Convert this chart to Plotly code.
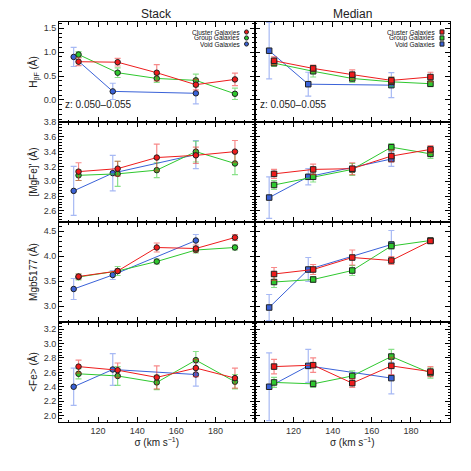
import plotly.graph_objects as go
from plotly.subplots import make_subplots

# ---------------- data ----------------
sigma_cluster = [110, 130, 150, 170, 190]
sigma_group = [110, 130, 150, 170, 190]
sigma_void = [107.5, 127.5, 170]

index_names = ["Hbeta", "MgFe", "Mgb", "Fe"]
y_titles = ["H<sub>βF</sub> (Å)", "[MgFe]' (Å)", "Mgb5177 (Å)", "<Fe> (Å)"]
y_ranges = [[-0.46, 1.63], [2.45, 3.80], [2.68, 4.68], [1.91, 3.30]]
y_dticks = [0.5, 0.2, 0.5, 0.2]

# Stack (left column)
stack_cluster = {
    "Hbeta": [0.80, 0.79, 0.57, 0.32, 0.43],
    "MgFe": [3.13, 3.17, 3.32, 3.35, 3.40],
    "Mgb": [3.59, 3.70, 4.17, 4.15, 4.37],
    "Fe": [2.68, 2.63, 2.53, 2.66, 2.52],
}
stack_cluster_err = {
    "Hbeta": [0.08, 0.08, 0.17, 0.11, 0.13],
    "MgFe": [0.12, 0.10, 0.18, 0.11, 0.15],
    "Mgb": [0.05, 0.04, 0.09, 0.07, 0.06],
    "Fe": [0.09, 0.10, 0.16, 0.12, 0.14],
}
stack_group = {
    "Hbeta": [0.95, 0.57, 0.45, 0.41, 0.13],
    "MgFe": [3.08, 3.10, 3.15, 3.40, 3.24],
    "Mgb": [3.58, 3.70, 3.89, 4.12, 4.17],
    "Fe": [2.58, 2.55, 2.46, 2.77, 2.47],
}
stack_group_err = {
    "Hbeta": [0.06, 0.10, 0.08, 0.13, 0.12],
    "MgFe": [0.07, 0.17, 0.10, 0.14, 0.15],
    "Mgb": [0.06, 0.09, 0.05, 0.06, 0.05],
    "Fe": [0.07, 0.13, 0.10, 0.12, 0.10],
}
stack_void = {
    "Hbeta": [0.90, 0.18, 0.14],
    "MgFe": [2.87, 3.11, 3.36],
    "Mgb": [3.34, 3.62, 4.31],
    "Fe": [2.40, 2.64, 2.57],
}
stack_void_err = {
    "Hbeta": [0.20, 0.17, 0.22],
    "MgFe": [0.33, 0.24, 0.19],
    "Mgb": [0.21, 0.09, 0.12],
    "Fe": [0.26, 0.22, 0.16],
}

# Median (right column)
median_cluster = {
    "Hbeta": [0.82, 0.66, 0.53, 0.41, 0.48],
    "MgFe": [3.10, 3.16, 3.17, 3.34, 3.43],
    "Mgb": [3.64, 3.73, 3.97, 3.91, 4.30],
    "Fe": [2.68, 2.70, 2.45, 2.69, 2.61],
}
median_cluster_err = {
    "Hbeta": [0.08, 0.07, 0.10, 0.07, 0.10],
    "MgFe": [0.06, 0.07, 0.08, 0.08, 0.05],
    "Mgb": [0.13, 0.10, 0.15, 0.08, 0.05],
    "Fe": [0.10, 0.10, 0.06, 0.12, 0.07],
}
median_group = {
    "Hbeta": [0.77, 0.60, 0.45, 0.38, 0.34],
    "MgFe": [2.95, 3.06, 3.16, 3.46, 3.37],
    "Mgb": [3.48, 3.53, 3.71, 4.20, 4.31],
    "Fe": [2.46, 2.44, 2.55, 2.82, 2.59],
}
median_group_err = {
    "Hbeta": [0.07, 0.12, 0.08, 0.10, 0.06],
    "MgFe": [0.06, 0.07, 0.08, 0.05, 0.06],
    "Mgb": [0.11, 0.06, 0.10, 0.06, 0.04],
    "Fe": [0.07, 0.05, 0.07, 0.10, 0.07],
}
median_void = {
    "Hbeta": [1.03, 0.33, 0.31],
    "MgFe": [2.78, 3.06, 3.30],
    "Mgb": [2.97, 3.73, 4.23],
    "Fe": [2.40, 2.69, 2.52],
}
median_void_err = {
    "Hbeta": [0.59, 0.25, 0.26],
    "MgFe": [0.28, 0.11, 0.10],
    "Mgb": [0.26, 0.24, 0.28],
    "Fe": [0.47, 0.23, 0.22],
}

series_labels = ["Cluster Galaxies", "Group Galaxies", "Void Galaxies"]
x_ticks = [120, 140, 160, 180]

# ---------------- styles ----------------
line_colors = {"cluster": "#ee1c1c", "group": "#2ec82e", "void": "#3a62d8"}
err_colors = {"cluster": "rgba(240,40,40,0.55)", "group": "rgba(40,200,40,0.55)",
              "void": "rgba(60,100,230,0.45)"}
FONT = "Liberation Sans, Arial, Helvetica, sans-serif"

fig = make_subplots(rows=4, cols=2, horizontal_spacing=0, vertical_spacing=0)

def add_series(row, col, x, y, e, key, symbol):
    fig.add_trace(go.Scatter(
        x=x, y=y, mode="lines", line=dict(color=line_colors[key], width=1),
        showlegend=False, hoverinfo="skip"), row=row, col=col)
    fig.add_trace(go.Scatter(
        x=x, y=y, mode="markers",
        marker=dict(symbol=symbol, size=5.5, color=line_colors[key],
                    line=dict(color="#202020", width=1)),
        error_y=dict(type="data", array=e, color=err_colors[key], thickness=1.2, width=3),
        showlegend=False), row=row, col=col)

for i, name in enumerate(index_names):
    r = i + 1
    add_series(r, 1, sigma_void, stack_void[name], stack_void_err[name], "void", "circle")
    add_series(r, 1, sigma_group, stack_group[name], stack_group_err[name], "group", "circle")
    add_series(r, 1, sigma_cluster, stack_cluster[name], stack_cluster_err[name], "cluster", "circle")
    add_series(r, 2, sigma_void, median_void[name], median_void_err[name], "void", "square")
    add_series(r, 2, sigma_group, median_group[name], median_group_err[name], "group", "square")
    add_series(r, 2, sigma_cluster, median_cluster[name], median_cluster_err[name], "cluster", "square")

axis_common = dict(showline=True, linecolor="black", linewidth=1, mirror="allticks",
                   ticks="inside", ticklen=5, tickwidth=1, tickcolor="black",
                   showgrid=False, zeroline=False,
                   tickfont=dict(family=FONT, size=9, color="#333333"))

for i in range(4):
    r = i + 1
    for c in (1, 2):
        fig.update_xaxes(range=[100, 200], tickvals=x_ticks,
                         minor=dict(dtick=5, tick0=100, ticks="inside", ticklen=2.5,
                                    tickcolor="black"),
                         showticklabels=(r == 4), row=r, col=c, **axis_common)
        fig.update_yaxes(range=y_ranges[i], dtick=y_dticks[i], tick0=0, tickformat=".1f",
                         minor=dict(dtick=y_dticks[i] / 5, tick0=0, ticks="inside",
                                    ticklen=2.5, tickcolor="black"),
                         showticklabels=(c == 1), row=r, col=c, **axis_common)
    fig.update_yaxes(title=dict(text=y_titles[i], font=dict(family=FONT, size=10, color="#222"),
                                standoff=4), row=r, col=1)

for c in (1, 2):
    fig.update_xaxes(title=dict(text="σ (km s<sup>−1</sup>)",
                                font=dict(family=FONT, size=10, color="#222"), standoff=4),
                     row=4, col=c)

annotations = []
for c, title in ((1, "Stack"), (2, "Median")):
    xref = "x domain" if c == 1 else "x2 domain"
    annotations.append(dict(x=0.5, y=1.02, xref=xref, yref="paper", text=title,
                            showarrow=False, yanchor="middle",
                            font=dict(family=FONT, size=12, color="#222")))
    yref = "y domain" if c == 1 else "y2 domain"
    annotations.append(dict(x=0.02, y=0.18, xref=xref, yref=yref, text="z: 0.050–0.055",
                            showarrow=False, xanchor="left", yanchor="middle",
                            font=dict(family=FONT, size=10, color="#222")))

shapes = []
keys = ["cluster", "group", "void"]
leg_y = [0.90, 0.84, 0.78]
for c in (1, 2):
    xref = "x domain" if c == 1 else "x2 domain"
    yref = "y domain" if c == 1 else "y2 domain"
    for k, lab, ly in zip(keys, series_labels, leg_y):
        annotations.append(dict(x=0.935, y=ly, xref=xref, yref=yref, text=lab,
                                showarrow=False, xanchor="right", yanchor="middle",
                                height=6, valign="middle",
                                font=dict(family=FONT, size=6.5, color="#111")))
        shapes.append(dict(type="circle" if c == 1 else "rect", xref=xref, yref=yref,
                           x0=0.949, x1=0.969, y0=ly - 0.021, y1=ly + 0.021,
                           fillcolor=line_colors[k], line=dict(color="#202020", width=1)))

fig.update_layout(width=471, height=471, margin=dict(l=59, r=21, t=22, b=49),
                  plot_bgcolor="white", paper_bgcolor="white",
                  annotations=annotations, shapes=shapes, showlegend=False)

fig.write_html("out.html")
